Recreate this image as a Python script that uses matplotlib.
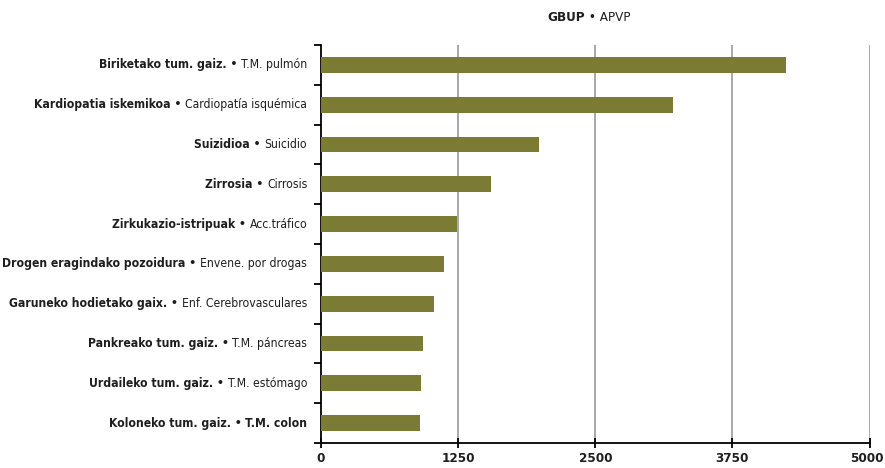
import matplotlib
matplotlib.use('Agg')
import matplotlib.pyplot as plt
from matplotlib import font_manager
import matplotlib.transforms as mtransforms
import numpy as np

# ---- data ----
eus_labels = [
    'Biriketako tum. gaiz.', 'Kardiopatia iskemikoa', 'Suizidioa', 'Zirrosia',
    'Zirkukazio-istripuak', 'Drogen eragindako pozoidura', 'Garuneko hodietako gaix.',
    'Pankreako tum. gaiz.', 'Urdaileko tum. gaiz.', 'Koloneko tum. gaiz.',
]
es_labels = [
    'T.M. pulmón', 'Cardiopatía isquémica', 'Suicidio', 'Cirrosis',
    'Acc.tráfico', 'Envene. por drogas', 'Enf. Cerebrovasculares',
    'T.M. páncreas', 'T.M. estómago', 'T.M. colon',
]
apvp = [4239, 3209, 1987, 1550, 1240, 1124, 1027, 927, 912, 902]
x_ticks = [0, 1250, 2500, 3750, 5000]

# ---- font: prefer a narrow/condensed face if one is installed ----
family, stretch = 'DejaVu Sans', 'normal'
for f in font_manager.fontManager.ttflist:
    if 'Narrow' in f.name or 'Condensed' in f.name or f.stretch in ('condensed', 'semi-condensed'):
        family, stretch = f.name, f.stretch
        break
FONT = [family, 'DejaVu Sans']

BAR_COLOR = '#7b7b36'
TEXT = '#1e1e1e'

fig = plt.figure(figsize=(8.85, 4.68), dpi=100)
renderer = fig.canvas.get_renderer()

# scale font so the widest label spans like in the original (~298 px)
def label_width(size, i):
    a = fig.text(0, 0, eus_labels[i] + ' \u2022 ', fontsize=size, fontfamily=FONT,
                 fontstretch=stretch, fontweight='bold')
    b = fig.text(0, 0, es_labels[i], fontsize=size, fontfamily=FONT, fontstretch=stretch)
    w = a.get_window_extent(renderer).width + b.get_window_extent(renderer).width
    a.remove()
    b.remove()
    return w

FS = min(10.0, 10.0 * 298.0 / label_width(10.0, 6))

ax = fig.add_axes([0.3627, 0.0534, 0.6198, 0.8504])

n = len(apvp)
y = np.arange(n)
ax.barh(y, apvp, height=0.4, color=BAR_COLOR, zorder=3)
ax.set_ylim(n - 0.5, -0.5)
ax.set_xlim(0, 5000)

# grid verticals behind bars
for v in x_ticks[1:]:
    ax.axvline(v, color='#9a9a9a', linewidth=1.2, zorder=1)

ax.spines['top'].set_visible(False)
ax.spines['right'].set_visible(False)
ax.spines['left'].set_linewidth(1.3)
ax.spines['bottom'].set_linewidth(1.3)

ax.set_xticks(x_ticks)
ax.set_xticklabels([str(t) for t in x_ticks], fontfamily=FONT, fontstretch=stretch,
                   fontweight='bold', fontsize=FS * 1.1, color=TEXT)
ax.tick_params(axis='x', direction='inout', length=7, width=1.3, pad=3)
# nudge "5000" a bit left so it stays inside the picture
lbl = ax.get_xticklabels()[-1]
lbl.set_transform(lbl.get_transform() + mtransforms.ScaledTranslation(-3 / 100, 0, fig.dpi_scale_trans))

# y ticks on category boundaries, no labels
ax.set_yticks(np.arange(n + 1) - 0.5)
ax.set_yticklabels([])
ax.tick_params(axis='y', direction='out', length=5, width=1.3)

# two-part labels: bold basque + normal spanish
for i in range(n):
    last = (i == n - 1)
    t_es = ax.text(-0.025, 1 - (i + 0.5) / n, es_labels[i], transform=ax.transAxes,
                   ha='right', va='center', fontsize=FS, fontfamily=FONT, fontstretch=stretch,
                   fontweight='bold' if last else 'normal', color=TEXT)
    ax.annotate(eus_labels[i] + ' \u2022 ', xy=(0, 0.5), xycoords=t_es,
                ha='right', va='center', fontsize=FS, fontfamily=FONT, fontstretch=stretch,
                fontweight='bold', color=TEXT)

# title
fig.text(0.661, 0.962, ' \u2022 APVP', ha='left', va='center',
         fontsize=FS * 1.1, fontfamily=FONT, fontstretch=stretch, color=TEXT)
fig.text(0.661, 0.962, 'GBUP', ha='right', va='center',
         fontsize=FS * 1.1, fontfamily=FONT, fontstretch=stretch, fontweight='bold', color=TEXT)

fig.savefig('out.png', dpi=100)
